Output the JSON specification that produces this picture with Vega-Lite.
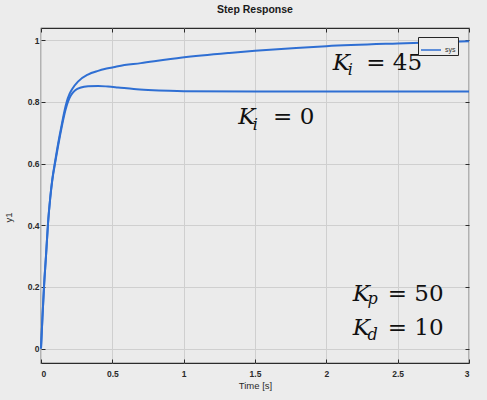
{
  "$schema": "https://vega.github.io/schema/vega-lite/v6.json",
  "width": 428,
  "height": 335,
  "autosize": {"type": "none"},
  "padding": {"left": 41, "top": 28, "right": 18, "bottom": 37},
  "background": "#ececec",
  "title": {"text": "Step Response", "fontSize": 10.5, "font": "Liberation Sans", "fontWeight": "bold", "color": "#1a1a1a", "anchor": "middle", "baseline": "alphabetic", "offset": 4},
  "resolve": {"axis": {"x": "independent", "y": "independent"}},
  "config": {
    "view": {"stroke": "#2b2b2b", "strokeWidth": 1.2, "fill": "#ebebeb"},
    "axis": {
      "domain": false,
      "grid": true,
      "gridColor": "#cfcfcf",
      "gridWidth": 1,
      "ticks": true,
      "tickColor": "#2b2b2b",
      "tickSize": -4,
      "labelFont": "Liberation Sans",
      "labelFontSize": 8.5,
      "labelFontWeight": "bold",
      "labelColor": "#2a2a2a",
      "titleFont": "Liberation Sans",
      "titleFontSize": 9.5,
      "titleFontWeight": "normal",
      "titleColor": "#2a2a2a"
    }
  },
  "layer": [
    {
      "data": {"values": [
        {"t": 0, "y": 0, "Ki": "0"},
        {"t": 0.01, "y": 0.1, "Ki": "0"},
        {"t": 0.021, "y": 0.2, "Ki": "0"},
        {"t": 0.035, "y": 0.3, "Ki": "0"},
        {"t": 0.049, "y": 0.405, "Ki": "0"},
        {"t": 0.065, "y": 0.49, "Ki": "0"},
        {"t": 0.079, "y": 0.546, "Ki": "0"},
        {"t": 0.1, "y": 0.605, "Ki": "0"},
        {"t": 0.12, "y": 0.658, "Ki": "0"},
        {"t": 0.135, "y": 0.695, "Ki": "0"},
        {"t": 0.15, "y": 0.73, "Ki": "0"},
        {"t": 0.165, "y": 0.762, "Ki": "0"},
        {"t": 0.18, "y": 0.788, "Ki": "0"},
        {"t": 0.195, "y": 0.808, "Ki": "0"},
        {"t": 0.21, "y": 0.822, "Ki": "0"},
        {"t": 0.24, "y": 0.838, "Ki": "0"},
        {"t": 0.28, "y": 0.847, "Ki": "0"},
        {"t": 0.33, "y": 0.851, "Ki": "0"},
        {"t": 0.4, "y": 0.852, "Ki": "0"},
        {"t": 0.47, "y": 0.85, "Ki": "0"},
        {"t": 0.54, "y": 0.847, "Ki": "0"},
        {"t": 0.65, "y": 0.842, "Ki": "0"},
        {"t": 0.75, "y": 0.839, "Ki": "0"},
        {"t": 0.9, "y": 0.836, "Ki": "0"},
        {"t": 1.0, "y": 0.835, "Ki": "0"},
        {"t": 1.5, "y": 0.834, "Ki": "0"},
        {"t": 2.0, "y": 0.834, "Ki": "0"},
        {"t": 2.5, "y": 0.834, "Ki": "0"},
        {"t": 3.0, "y": 0.834, "Ki": "0"},
        {"t": 0, "y": 0, "Ki": "45"},
        {"t": 0.01, "y": 0.1, "Ki": "45"},
        {"t": 0.021, "y": 0.2, "Ki": "45"},
        {"t": 0.035, "y": 0.3, "Ki": "45"},
        {"t": 0.049, "y": 0.405, "Ki": "45"},
        {"t": 0.065, "y": 0.49, "Ki": "45"},
        {"t": 0.079, "y": 0.548, "Ki": "45"},
        {"t": 0.1, "y": 0.61, "Ki": "45"},
        {"t": 0.12, "y": 0.665, "Ki": "45"},
        {"t": 0.135, "y": 0.702, "Ki": "45"},
        {"t": 0.15, "y": 0.738, "Ki": "45"},
        {"t": 0.165, "y": 0.772, "Ki": "45"},
        {"t": 0.18, "y": 0.8, "Ki": "45"},
        {"t": 0.2, "y": 0.826, "Ki": "45"},
        {"t": 0.22, "y": 0.843, "Ki": "45"},
        {"t": 0.259, "y": 0.866, "Ki": "45"},
        {"t": 0.329, "y": 0.889, "Ki": "45"},
        {"t": 0.4, "y": 0.901, "Ki": "45"},
        {"t": 0.446, "y": 0.907, "Ki": "45"},
        {"t": 0.5, "y": 0.912, "Ki": "45"},
        {"t": 0.54, "y": 0.916, "Ki": "45"},
        {"t": 0.7, "y": 0.926, "Ki": "45"},
        {"t": 0.99, "y": 0.944, "Ki": "45"},
        {"t": 1.32, "y": 0.959, "Ki": "45"},
        {"t": 1.5, "y": 0.966, "Ki": "45"},
        {"t": 2.0, "y": 0.981, "Ki": "45"},
        {"t": 2.5, "y": 0.99, "Ki": "45"},
        {"t": 3.0, "y": 0.997, "Ki": "45"}
      ]},
      "mark": {"type": "line", "strokeWidth": 2, "interpolate": "monotone"},
      "encoding": {
        "x": {"field": "t", "type": "quantitative", "scale": {"domain": [0, 3], "nice": false},
              "axis": {"orient": "bottom", "values": [0, 0.5, 1, 1.5, 2, 2.5, 3], "format": "~g", "labelPadding": 10, "titlePadding": 3}, "title": "Time [s]"},
        "y": {"field": "y", "type": "quantitative", "scale": {"domain": [-0.047, 1.04], "nice": false, "zero": false},
              "axis": {"orient": "left", "values": [0, 0.2, 0.4, 0.6, 0.8, 1], "format": "~g", "labelPadding": 6, "titleX": -28, "titleY": 189}, "title": "y1"},
        "color": {"datum": "sys", "type": "nominal", "scale": {"range": ["#2f6fd3"]},
                  "legend": {"title": null, "orient": "none", "legendX": 377, "legendY": 9, "strokeColor": "#262626", "fillColor": "#ececec", "padding": 2, "symbolType": "stroke", "symbolSize": 400, "symbolStrokeWidth": 1.5, "labelFontSize": 7, "labelFont": "Liberation Sans", "labelColor": "#333", "labelOffset": 3}},
        "detail": {"field": "Ki", "type": "nominal"}
      }
    },
    {
      "data": {"values": [
        {"t": 2.045, "y": 0.905, "label": "K"},
        {"t": 1.382, "y": 0.727, "label": "K"},
        {"t": 2.185, "y": 0.154, "label": "K"},
        {"t": 2.185, "y": 0.043, "label": "K"}
      ]},
      "mark": {"type": "text", "font": "DejaVu Serif", "fontStyle": "italic", "fontSize": 23, "align": "left", "baseline": "alphabetic", "color": "#111111"},
      "encoding": {
        "x": {"field": "t", "type": "quantitative", "axis": {"orient": "top", "values": [0, 0.5, 1, 1.5, 2, 2.5, 3], "labels": false, "grid": false, "title": null}},
        "y": {"field": "y", "type": "quantitative", "axis": {"orient": "right", "values": [0, 0.2, 0.4, 0.6, 0.8, 1], "labels": false, "grid": false, "title": null}},
        "text": {"field": "label"}
      }
    },
    {
      "data": {"values": [
        {"t": 2.15, "y": 0.886, "label": "i"},
        {"t": 1.485, "y": 0.708, "label": "i"},
        {"t": 2.288, "y": 0.146, "label": "p"},
        {"t": 2.288, "y": 0.029, "label": "d"}
      ]},
      "mark": {"type": "text", "font": "DejaVu Serif", "fontStyle": "italic", "fontSize": 16, "align": "left", "baseline": "alphabetic", "color": "#111111"},
      "encoding": {
        "x": {"field": "t", "type": "quantitative", "axis": null},
        "y": {"field": "y", "type": "quantitative", "axis": null},
        "text": {"field": "label"}
      }
    },
    {
      "data": {"values": [
        {"t": 2.28, "y": 0.905, "label": "= 45"},
        {"t": 1.627, "y": 0.727, "label": "= 0"},
        {"t": 2.43, "y": 0.154, "label": "= 50"},
        {"t": 2.43, "y": 0.043, "label": "= 10"}
      ]},
      "mark": {"type": "text", "font": "DejaVu Serif", "fontSize": 23, "align": "left", "baseline": "alphabetic", "color": "#111111"},
      "encoding": {
        "x": {"field": "t", "type": "quantitative", "axis": null},
        "y": {"field": "y", "type": "quantitative", "axis": null},
        "text": {"field": "label"}
      }
    }
  ]
}
